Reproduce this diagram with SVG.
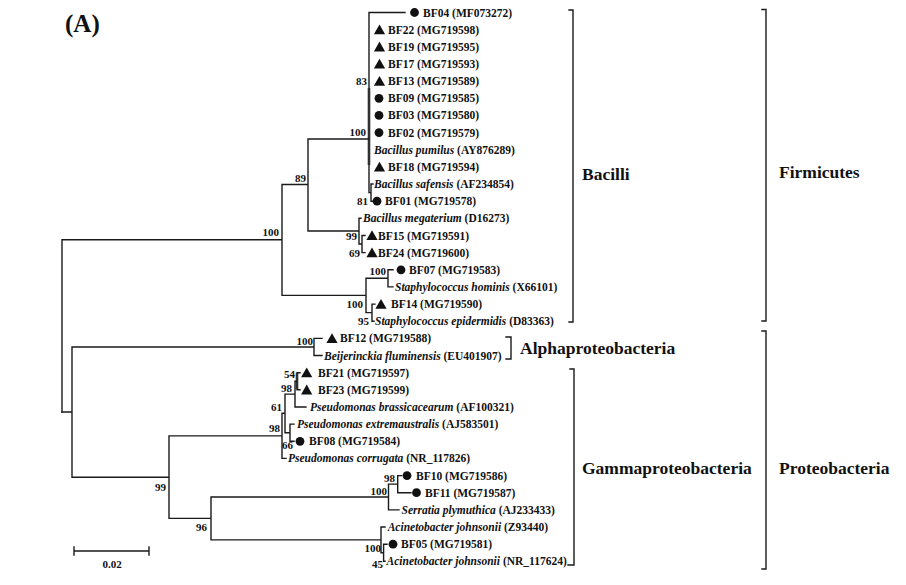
<svg xmlns="http://www.w3.org/2000/svg" xmlns:xlink="http://www.w3.org/1999/xlink" width="906" height="585" viewBox="0 0 906 585">
<style>
text { font-family: "Liberation Serif", "Times New Roman", serif; font-weight: bold; fill: #111; }
.lf { font-size: 11.5px; }
.it { font-style: italic; }
.bs { font-size: 11px; text-anchor: end; }
.grp { font-size: 17.5px; }
.ttl { font-size: 25px; }
.br { fill: none; stroke: #1a1a1a; stroke-width: 1.4; stroke-linecap: square; }
.thick { fill: none; stroke: #666; stroke-width: 2.8; }
.mk { fill: #111; }
</style>
<defs>
<circle id="dot" cx="0" cy="0" r="4.4"/>
<path id="tri" d="M0,-5.2 L5.6,4.6 L-5.6,4.6 Z"/>
</defs>
<rect width="906" height="585" fill="#fff"/>
<text class="ttl" x="65" y="32">(A)</text>

<g id="connectors">
<path class="thick" d="M369,88 V165 M297,373 V389"/>
<path class="br" d="M62,239.8 V412 M62,239.8 H282 M282,184.5 V295.4 M282,184.5 H308 M308,139 V231 M308,139 H369 M369,12.5 V192.6 M369,12.5 H405 M369,192.6 H371 M371,184 V201.2 M371,184 H373 M371,201.2 H373 M308,231 H359 M359,218.3 V244 M359,218.3 H361 M359,244 H362 M362,235.5 V252.6 M362,235.5 H365 M362,252.6 H365 M282,295.4 H366 M366,278.3 V312.6 M366,278.3 H388 M388,269.8 V286.9 M388,269.8 H393 M388,286.9 H393 M366,312.6 H372 M372,304.1 V321.2 M372,304.1 H375 M372,321.2 H374"/>
<path class="br" d="M62,412 H72 M72,347 V477.2 M72,347 H314 M314,338.4 V355.5 M314,338.4 H322 M314,355.5 H322 M72,477.2 H169 M169,435.9 V518.4 M169,435.9 H282 M282,413.3 V458.4 M282,458.4 H286 M282,413.3 H285 M285,394.1 V432.7 M285,394.1 H295 M295,381.2 V407 M295,407 H306 M295,381.2 H297 M297,372.7 V389.8 M297,372.7 H300 M297,389.8 H300 M285,432.7 H290 M290,424.1 V441.3 M290,424.1 H294 M290,441.3 H294 M169,518.4 H211 M211,497 V539.9 M211,497 H388.5 M388.5,484.1 V509.9 M388.5,509.9 H399 M388.5,484.1 H397.7 M397.7,475.6 V492.7 M397.7,475.6 H401.5 M397.7,492.7 H411 M211,539.9 H381 M381,527 V552.7 M381,527 H385 M381,552.7 H383.6 M383.6,544.2 V561.3 M383.6,544.2 H387 M383.6,561.3 H385"/>
</g>

<g id="bootstrap">
<text class="bs" x="367" y="85">83</text>
<text class="bs" x="366" y="136">100</text>
<text class="bs" x="368" y="205">81</text>
<text class="bs" x="306" y="182">89</text>
<text class="bs" x="357" y="240">99</text>
<text class="bs" x="360" y="257">69</text>
<text class="bs" x="279" y="236">100</text>
<text class="bs" x="386" y="275">100</text>
<text class="bs" x="363" y="308">100</text>
<text class="bs" x="369" y="325">95</text>
<text class="bs" x="313" y="345">100</text>
<text class="bs" x="295" y="378">54</text>
<text class="bs" x="292" y="392">98</text>
<text class="bs" x="282" y="411">61</text>
<text class="bs" x="280" y="432">98</text>
<text class="bs" x="293" y="449">66</text>
<text class="bs" x="166" y="491">99</text>
<text class="bs" x="395" y="482">98</text>
<text class="bs" x="387" y="495">100</text>
<text class="bs" x="207" y="531">96</text>
<text class="bs" x="381" y="552">100</text>
<text class="bs" x="383" y="568">45</text>
</g>

<g id="leaf-BF04"><use href="#dot" class="mk" x="414.5" y="12.5"/><text class="lf" x="423" y="16.5">BF04 (MF073272)</text></g>
<g id="leaf-BF22"><use href="#tri" class="mk" x="379.5" y="29.7"/><text class="lf" x="388" y="33.7">BF22 (MG719598)</text></g>
<g id="leaf-BF19"><use href="#tri" class="mk" x="379.5" y="46.8"/><text class="lf" x="388" y="50.8">BF19 (MG719595)</text></g>
<g id="leaf-BF17"><use href="#tri" class="mk" x="379.5" y="64"/><text class="lf" x="388" y="68">BF17 (MG719593)</text></g>
<g id="leaf-BF13"><use href="#tri" class="mk" x="379.5" y="81.1"/><text class="lf" x="388" y="85.1">BF13 (MG719589)</text></g>
<g id="leaf-BF09"><use href="#dot" class="mk" x="379" y="98.3"/><text class="lf" x="388" y="102.3">BF09 (MG719585)</text></g>
<g id="leaf-BF03"><use href="#dot" class="mk" x="379" y="115.4"/><text class="lf" x="388" y="119.4">BF03 (MG719580)</text></g>
<g id="leaf-BF02"><use href="#dot" class="mk" x="379" y="132.6"/><text class="lf" x="388" y="136.6">BF02 (MG719579)</text></g>
<g id="leaf-Bpumilus"><text class="lf" x="374" y="153.7"><tspan class="it">Bacillus pumilus</tspan> (AY876289)</text></g>
<g id="leaf-BF18"><use href="#tri" class="mk" x="379.5" y="166.9"/><text class="lf" x="388" y="170.9">BF18 (MG719594)</text></g>
<g id="leaf-Bsafensis"><text class="lf" x="374" y="188"><tspan class="it">Bacillus safensis</tspan> (AF234854)</text></g>
<g id="leaf-BF01"><use href="#dot" class="mk" x="377" y="201.2"/><text class="lf" x="385" y="205.2">BF01 (MG719578)</text></g>
<g id="leaf-Bmegaterium"><text class="lf" x="363" y="222.3"><tspan class="it">Bacillus megaterium</tspan> (D16273)</text></g>
<g id="leaf-BF15"><use href="#tri" class="mk" x="372" y="235.5"/><text class="lf" x="378" y="239.5">BF15 (MG719591)</text></g>
<g id="leaf-BF24"><use href="#tri" class="mk" x="372" y="252.6"/><text class="lf" x="378" y="256.6">BF24 (MG719600)</text></g>
<g id="leaf-BF07"><use href="#dot" class="mk" x="401" y="269.8"/><text class="lf" x="409" y="273.8">BF07 (MG719583)</text></g>
<g id="leaf-Shominis"><text class="lf" x="395" y="290.9"><tspan class="it">Staphylococcus hominis</tspan> (X66101)</text></g>
<g id="leaf-BF14"><use href="#tri" class="mk" x="381" y="304.1"/><text class="lf" x="391" y="308.1">BF14 (MG719590)</text></g>
<g id="leaf-Sepidermidis"><text class="lf" x="375" y="325.2"><tspan class="it">Staphylococcus epidermidis</tspan> (D83363)</text></g>
<g id="leaf-BF12"><use href="#tri" class="mk" x="332" y="338.4"/><text class="lf" x="340" y="342.4">BF12 (MG719588)</text></g>
<g id="leaf-Bfluminensis"><text class="lf" x="324" y="359.5"><tspan class="it">Beijerinckia fluminensis</tspan> (EU401907)</text></g>
<g id="leaf-BF21"><use href="#tri" class="mk" x="306.7" y="372.7"/><text class="lf" x="318" y="376.7">BF21 (MG719597)</text></g>
<g id="leaf-BF23"><use href="#tri" class="mk" x="306.7" y="389.8"/><text class="lf" x="318" y="393.8">BF23 (MG719599)</text></g>
<g id="leaf-Pbrassicacearum"><text class="lf" x="310" y="411"><tspan class="it">Pseudomonas brassicacearum</tspan> (AF100321)</text></g>
<g id="leaf-Pextremaustralis"><text class="lf" x="297" y="428.1"><tspan class="it">Pseudomonas extremaustralis</tspan> (AJ583501)</text></g>
<g id="leaf-BF08"><use href="#dot" class="mk" x="300" y="441.3"/><text class="lf" x="309" y="445.3">BF08 (MG719584)</text></g>
<g id="leaf-Pcorrugata"><text class="lf" x="288" y="462.4"><tspan class="it">Pseudomonas corrugata</tspan> (NR_117826)</text></g>
<g id="leaf-BF10"><use href="#dot" class="mk" x="407" y="475.6"/><text class="lf" x="416" y="479.6">BF10 (MG719586)</text></g>
<g id="leaf-BF11"><use href="#dot" class="mk" x="416.5" y="492.7"/><text class="lf" x="425" y="496.7">BF11 (MG719587)</text></g>
<g id="leaf-Splymuthica"><text class="lf" x="401.5" y="513.9"><tspan class="it">Serratia plymuthica</tspan> (AJ233433)</text></g>
<g id="leaf-AjohnsoniiZ"><text class="lf" x="387.7" y="531"><tspan class="it">Acinetobacter johnsonii</tspan> (Z93440)</text></g>
<g id="leaf-BF05"><use href="#dot" class="mk" x="393" y="544.2"/><text class="lf" x="401" y="548.2">BF05 (MG719581)</text></g>
<g id="leaf-AjohnsoniiNR"><text class="lf" x="386.6" y="565.3"><tspan class="it">Acinetobacter johnsonii</tspan> (NR_117624)</text></g>

<g id="scalebar">
<path class="br" d="M74,551 H149 M74,547 V555 M149,547 V555"/>
<text class="lf" x="112" y="568" text-anchor="middle" style="font-size:11px">0.02</text>
</g>

<g id="brackets">
<path class="br" d="M569,10 H573 V322 H569"/>
<path class="br" d="M762,9.5 H766 V321 H762"/>
<path class="br" d="M506,337 H511 V359 H506"/>
<path class="br" d="M570,369 H574 V565 H568"/>
<path class="br" d="M762,331 H766 V569 H762"/>
</g>
<g id="grp-Bacilli"><text class="grp" x="582" y="180">Bacilli</text></g>
<g id="grp-Firmicutes"><text class="grp" x="779" y="178">Firmicutes</text></g>
<g id="grp-Alpha"><text class="grp" x="520" y="354">Alphaproteobacteria</text></g>
<g id="grp-Gamma"><text class="grp" x="582" y="474">Gammaproteobacteria</text></g>
<g id="grp-Proteobacteria"><text class="grp" x="779" y="474">Proteobacteria</text></g>
</svg>
